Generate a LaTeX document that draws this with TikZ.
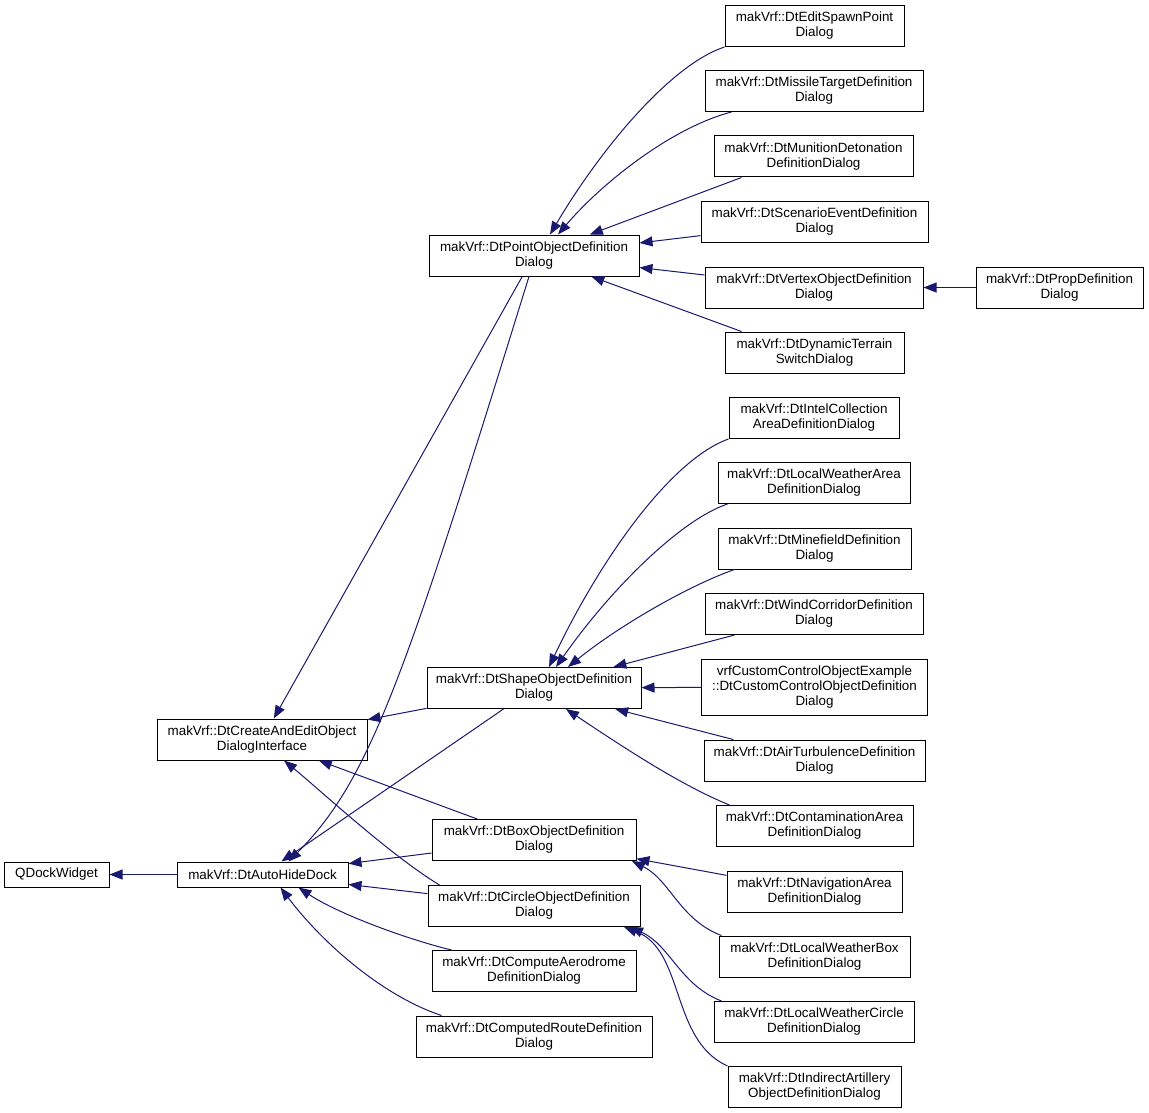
\documentclass[tikz,border=0pt]{standalone}
\usepackage{fontspec}
\setmainfont{Liberation Sans}
\usetikzlibrary{arrows.meta}

\newcommand{\dtfont}{\fontsize{13.4}{15}\selectfont}

\tikzset{
  cls/.style={draw={rgb, 255:red, 0; green, 0; blue, 0}, fill=white, line width=1pt,
    inner sep=0pt, align=center, font=\dtfont},
  one/.style={cls, minimum height=25},
  two/.style={cls, minimum height=41},
  three/.style={cls, minimum height=56},
  edge/.style={draw={rgb, 255:red, 25; green, 25; blue, 112}, line width=1pt,
    -{Triangle[length=13pt,width=10pt]}},
}

\begin{document}
\begin{tikzpicture}[x=1pt,y=1pt,yscale=-1,xscale=1]
		\useasboundingbox (0,0) rectangle (1149,1113);
		
		%Nodes: left part
		\node [one, minimum width=105] (qdock) at (56.5,874.5) {QDockWidget};
		\node [one, minimum width=171] (auto) at (262.5,874.5) {makVrf::DtAutoHideDock};
		\node [two, minimum width=210] (create) at (262,739.5) {makVrf::DtCreateAndEditObject\\DialogInterface};
		
		%Nodes: middle column
		\node [two, minimum width=210] (point) at (534,255.5) {makVrf::DtPointObjectDefinition\\Dialog};
		\node [two, minimum width=214] (shape) at (534,688) {makVrf::DtShapeObjectDefinition\\Dialog};
		\node [two, minimum width=204] (box) at (534,840) {makVrf::DtBoxObjectDefinition\\Dialog};
		\node [two, minimum width=212] (circle) at (534,906) {makVrf::DtCircleObjectDefinition\\Dialog};
		\node [two, minimum width=204] (aero) at (534,971) {makVrf::DtComputeAerodrome\\DefinitionDialog};
		\node [two, minimum width=236] (route) at (534,1036.5) {makVrf::DtComputedRouteDefinition\\Dialog};
		
		%Nodes: right column
		\node [two, minimum width=179] (spawn) at (814.5,26) {makVrf::DtEditSpawnPoint\\Dialog};
		\node [two, minimum width=218] (missile) at (814,91) {makVrf::DtMissileTargetDefinition\\Dialog};
		\node [two, minimum width=199] (munition) at (813.5,156.5) {makVrf::DtMunitionDetonation\\DefinitionDialog};
		\node [two, minimum width=227] (scenario) at (814.5,222) {makVrf::DtScenarioEventDefinition\\Dialog};
		\node [two, minimum width=218] (vertex) at (814,287.5) {makVrf::DtVertexObjectDefinition\\Dialog};
		\node [two, minimum width=179] (dynamic) at (814.5,352.5) {makVrf::DtDynamicTerrain\\SwitchDialog};
		\node [two, minimum width=170] (intel) at (814,418) {makVrf::DtIntelCollection\\AreaDefinitionDialog};
		\node [two, minimum width=192] (lwarea) at (814,483) {makVrf::DtLocalWeatherArea\\DefinitionDialog};
		\node [two, minimum width=193] (minefield) at (814.5,548.5) {makVrf::DtMinefieldDefinition\\Dialog};
		\node [two, minimum width=218] (wind) at (814,614) {makVrf::DtWindCorridorDefinition\\Dialog};
		\node [three, minimum width=226] (custom) at (814.5,687) {vrfCustomControlObjectExample\\::DtCustomControlObjectDefinition\\Dialog};
		\node [two, minimum width=221] (air) at (814.5,760.5) {makVrf::DtAirTurbulenceDefinition\\Dialog};
		\node [two, minimum width=197] (contam) at (814.5,826) {makVrf::DtContaminationArea\\DefinitionDialog};
		\node [two, minimum width=175] (navig) at (814.5,891.5) {makVrf::DtNavigationArea\\DefinitionDialog};
		\node [two, minimum width=191] (lwbox) at (814.5,956.5) {makVrf::DtLocalWeatherBox\\DefinitionDialog};
		\node [two, minimum width=200] (lwcircle) at (814,1022) {makVrf::DtLocalWeatherCircle\\DefinitionDialog};
		\node [two, minimum width=173] (indirect) at (814.5,1087) {makVrf::DtIndirectArtillery\\ObjectDefinitionDialog};
		\node [two, minimum width=167] (prop) at (1059.5,287.5) {makVrf::DtPropDefinition\\Dialog};
		
		%Edges: base classes
		\draw [edge] (auto) -- (qdock);
		\draw [edge] (point) -- (create);
		\draw [edge] ([xshift=-5]point.south) .. controls (405,677) and (370,780) .. ([xshift=26]auto.north);
		\draw [edge] (shape) -- (create);
		\draw [edge] (shape) -- (auto);
		\draw [edge] (box) -- (create);
		\draw [edge] ([xshift=12]circle.north west) .. controls (390,855) and (320,790) .. ([xshift=22]create.south);
		\draw [edge] (box) -- (auto);
		\draw [edge] (circle) -- (auto);
		\draw [edge] ([xshift=20]aero.north west) .. controls (410,940) and (340,915) .. ([xshift=36]auto.south);
		\draw [edge] ([xshift=26]route.north west) .. controls (380,995) and (320,940) .. ([xshift=18]auto.south);
		
		%Edges: point dialogs
		\draw [edge] (spawn.south west) .. controls (670,65) and (600,150) .. ([xshift=16]point.north);
		\draw [edge] ([xshift=27]missile.south west) .. controls (670,128) and (600,185) .. ([xshift=24]point.north);
		\draw [edge] ([xshift=28]munition.south west) -- (point);
		\draw [edge] (scenario) -- (point);
		\draw [edge] (vertex) -- (point);
		\draw [edge] ([xshift=17]dynamic.north west) -- (point);
		\draw [edge] (prop) -- (vertex);
		
		%Edges: shape dialogs
		\draw [edge] (intel.south west) .. controls (670,460) and (600,560) .. ([xshift=15]shape.north);
		\draw [edge] ([xshift=10]lwarea.south west) .. controls (680,520) and (610,590) .. ([xshift=22]shape.north);
		\draw [edge] ([xshift=17]minefield.south west) .. controls (690,585) and (620,625) .. ([xshift=34]shape.north);
		\draw [edge] (wind) -- (shape);
		\draw [edge] (custom) -- (shape);
		\draw [edge] (air) -- (shape);
		\draw [edge] ([xshift=14]contam.north west) .. controls (680,785) and (620,745) .. ([xshift=32]shape.south);
		
		%Edges: box and circle dialogs
		\draw [edge] (navig) -- (box);
		\draw [edge] ([xshift=3]lwbox.north west) .. controls (680,920) and (670,880) .. ([xshift=98]box.south);
		\draw [edge] ([xshift=8]lwcircle.north west) .. controls (680,985) and (670,945) .. ([xshift=96]circle.south);
		\draw [edge] (indirect.north west) .. controls (670,1040) and (685,950) .. ([xshift=90]circle.south);
	\end{tikzpicture}
\end{document}
